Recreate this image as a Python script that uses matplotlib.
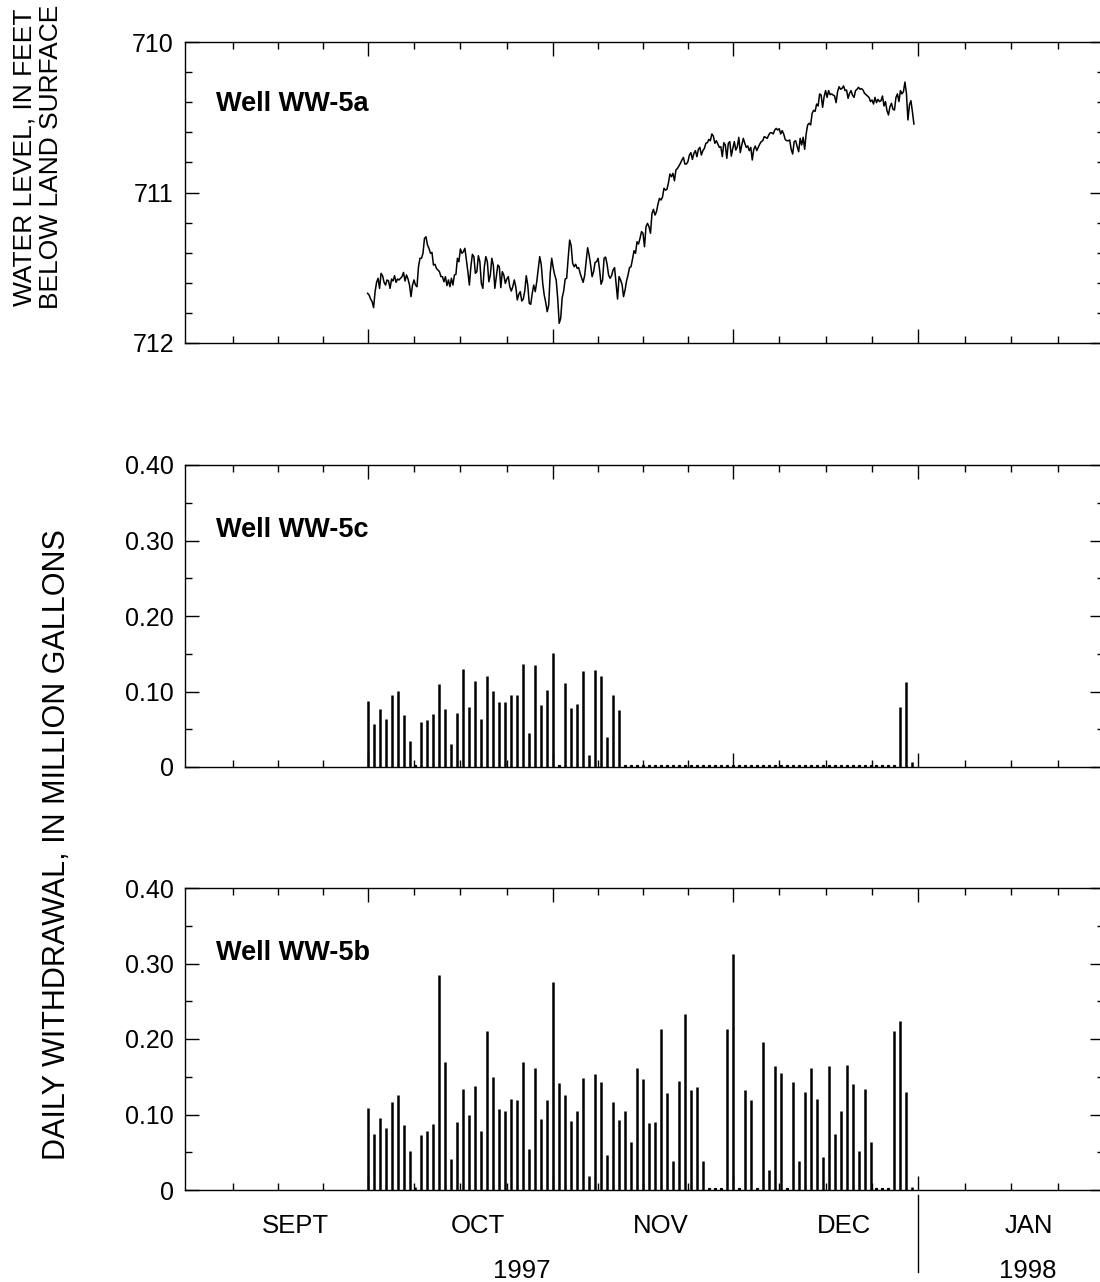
import matplotlib
matplotlib.use('Agg')
import matplotlib.pyplot as plt
import matplotlib.transforms as mtransforms
from matplotlib.ticker import FixedLocator, MultipleLocator, FuncFormatter

plt.rcParams['font.family'] = ['Liberation Sans', 'DejaVu Sans']

# x axis is in days counted from 1997-10-01
c_lstMonthStarts = [-30, 0, 31, 61, 92, 123]   # Sept 1 ... Feb 1
c_lstMonthNames = ['SEPT', 'OCT', 'NOV', 'DEC', 'JAN']
c_lstYearNames = ['1997', '1998']

# Well WW-5a water level (ft below land surface), one reading every 6 hours from Oct 1
sLevelStart = 0.0
sLevelStep = 0.25
lstLevel = [
   711.670, 711.681, 711.708, 711.725, 711.765, 711.659, 711.597, 711.570,
   711.637, 711.537, 711.553, 711.597, 711.615, 711.581, 711.588, 711.637,
   711.575, 711.588, 711.553, 711.597, 711.575, 711.581, 711.570, 711.559,
   711.531, 711.588, 711.548, 711.575, 711.615, 711.692, 711.615, 711.581,
   711.615, 711.626, 711.493, 711.437, 711.437, 711.404, 711.305, 711.294,
   711.349, 711.371, 711.404, 711.398, 711.482, 711.477, 711.504, 711.515,
   711.526, 711.559, 711.559, 711.593, 711.559, 711.619, 711.581, 711.626,
   711.570, 711.615, 711.548, 711.544, 711.437, 711.460, 711.375, 711.404,
   711.393, 711.371, 711.449, 711.526, 711.615, 711.493, 711.411, 711.426,
   711.537, 711.526, 711.420, 711.460, 711.604, 711.637, 711.493, 711.426,
   711.460, 711.593, 711.548, 711.437, 711.482, 711.637, 711.559, 711.482,
   711.493, 711.632, 711.526, 711.548, 711.604, 711.575, 711.559, 711.626,
   711.655, 711.626, 711.581, 711.626, 711.714, 711.677, 711.659, 711.721,
   711.708, 711.655, 711.553, 711.615, 711.736, 711.743, 711.670, 711.615,
   711.659, 711.593, 711.508, 711.426, 711.477, 711.604, 711.681, 711.730,
   711.792, 711.748, 711.537, 711.437, 711.499, 711.548, 711.581, 711.703,
   711.869, 711.836, 711.699, 711.655, 711.575, 711.570, 711.437, 711.316,
   711.353, 711.471, 711.493, 711.477, 711.504, 711.499, 711.537, 711.566,
   711.597, 711.553, 711.460, 711.367, 711.415, 711.482, 711.559, 711.526,
   711.464, 711.460, 711.437, 711.515, 711.610, 711.581, 711.437, 711.429,
   711.477, 711.548, 711.570, 711.553, 711.515, 711.499, 711.604, 711.708,
   711.559, 711.581, 711.610, 711.692, 711.648, 711.588, 711.548, 711.499,
   711.493, 711.442, 711.387, 711.404, 711.327, 711.342, 711.305, 711.260,
   711.271, 711.360, 711.227, 711.205, 711.227, 711.271, 711.139, 711.112,
   711.150, 711.128, 711.077, 711.039, 711.050, 711.032, 710.972, 710.984,
   710.979, 710.935, 710.877, 710.895, 710.873, 710.922, 710.851, 710.840,
   710.824, 710.806, 710.784, 710.767, 710.811, 710.811, 710.795, 710.751,
   710.735, 710.780, 710.740, 710.722, 710.762, 710.713, 710.700, 710.751,
   710.722, 710.707, 710.673, 710.669, 710.647, 710.656, 710.611, 710.625,
   710.673, 710.656, 710.678, 710.700, 710.696, 710.762, 710.669, 710.685,
   710.773, 710.673, 710.662, 710.758, 710.707, 710.662, 710.718, 710.696,
   710.634, 710.735, 710.685, 710.640, 710.673, 710.700, 710.691, 710.722,
   710.700, 710.784, 710.713, 710.691, 710.722, 710.700, 710.678, 710.662,
   710.656, 710.629, 710.634, 710.640, 710.618, 710.603, 710.603, 710.611,
   710.585, 710.574, 710.585, 710.576, 710.611, 710.589, 710.611, 710.647,
   710.656, 710.656, 710.651, 710.713, 710.744, 710.662, 710.656, 710.695,
   710.729, 710.640, 710.684, 710.633, 710.713, 710.611, 710.551, 710.540,
   710.551, 710.474, 710.454, 710.461, 710.412, 710.425, 710.345, 710.352,
   710.434, 710.363, 710.323, 710.368, 710.323, 710.350, 710.345, 710.352,
   710.359, 710.403, 710.330, 710.297, 710.314, 710.308, 710.292, 710.323,
   710.319, 710.374, 710.341, 710.323, 710.354, 710.368, 710.323, 710.314,
   710.301, 710.314, 710.310, 710.319, 710.341, 710.350, 710.359, 710.368,
   710.396, 710.385, 710.412, 710.368, 710.403, 710.381, 710.396, 710.390,
   710.359, 710.425, 710.396, 710.456, 710.485, 710.430, 710.407, 710.447,
   710.452, 710.368, 710.345, 710.396, 710.323, 710.345, 710.330, 710.266,
   710.341, 710.518, 710.419, 710.390, 710.463, 710.545,
]

# Daily withdrawal (million gallons), one value per day from Oct 1 (day 0) to Dec 31 (day 91)
lstDays = list(range(92))
lstWithdrawal5c = [
   0.087, 0.057, 0.077, 0.064, 0.096, 0.101, 0.069, 0.035, 0, 0.059,
   0.062, 0.070, 0.110, 0.077, 0.030, 0.072, 0.130, 0.080, 0.114, 0.063,
   0.121, 0.101, 0.086, 0.086, 0.096, 0.096, 0.137, 0.045, 0.135, 0.082,
   0.102, 0.151, 0, 0.111, 0.078, 0.083, 0.127, 0.016, 0.129, 0.121,
   0.040, 0.096, 0.076, 0, 0, 0, 0, 0, 0, 0,
   0, 0, 0, 0, 0, 0, 0, 0, 0, 0,
   0, 0, 0, 0, 0, 0, 0, 0, 0, 0,
   0, 0, 0, 0, 0, 0, 0, 0, 0, 0,
   0, 0, 0, 0, 0, 0, 0, 0, 0, 0.079,
   0.112, 0.006,
]
lstWithdrawal5b = [
   0.108, 0.074, 0.096, 0.082, 0.116, 0.126, 0.086, 0.051, 0.004, 0.073,
   0.078, 0.087, 0.285, 0.170, 0.041, 0.090, 0.134, 0.100, 0.138, 0.078,
   0.210, 0.150, 0.107, 0.105, 0.121, 0.119, 0.170, 0.054, 0.161, 0.094,
   0.119, 0.276, 0.142, 0.126, 0.092, 0.105, 0.149, 0.018, 0.153, 0.143,
   0.046, 0.116, 0.093, 0.105, 0.064, 0.162, 0.147, 0.089, 0.090, 0.213,
   0.129, 0.038, 0.145, 0.233, 0.133, 0.137, 0.038, 0, 0, 0,
   0.213, 0.313, 0, 0.132, 0.119, 0, 0.196, 0.027, 0.164, 0.155,
   0, 0.143, 0.038, 0.130, 0.162, 0.121, 0.044, 0.164, 0.074, 0.104,
   0.166, 0.140, 0.052, 0.134, 0.064, 0, 0, 0, 0.210, 0.224,
   0.130, 0.004,
]

c_nFontSize = 18
c_nWellFontSize = 19.5
c_strInk = 'black'


def setup_time_axis(ax):
   ax.set_xlim(-30.5, 123)
   lstMinor = list()
   for i in range(len(c_lstMonthStarts) - 1):
      nStart = c_lstMonthStarts[i]
      nLen = c_lstMonthStarts[i + 1] - nStart
      for k in (1, 2, 3):
         lstMinor.append(nStart + k * nLen / 4.0)
   ax.xaxis.set_major_locator(FixedLocator(c_lstMonthStarts[1:5]))
   ax.xaxis.set_minor_locator(FixedLocator(lstMinor))
   ax.set_xticklabels([])
   ax.tick_params(which='both', direction='in', top=True, right=True,
                  labelsize=c_nFontSize, pad=8, color=c_strInk)
   ax.tick_params(which='major', length=10, width=1.0)
   ax.tick_params(which='minor', length=5, width=1.0)
   for spine in ax.spines.values():
      spine.set_linewidth(1.0)


def withdrawal_panel(ax, lstValues, strWell):
   lstBarDays = [d for (d, v) in zip(lstDays, lstValues) if v > 0]
   lstBarVals = [v for v in lstValues if v > 0]
   lstZeroDays = [d for (d, v) in zip(lstDays, lstValues) if v == 0]
   ax.vlines(lstBarDays, 0, lstBarVals, color=c_strInk, linewidth=1.8)
   ax.plot(lstZeroDays, [0.0015] * len(lstZeroDays), linestyle='none',
           marker='s', markersize=1.3, color=c_strInk)
   setup_time_axis(ax)
   ax.set_ylim(0, 0.40)
   ax.yaxis.set_major_locator(MultipleLocator(0.10))
   ax.yaxis.set_minor_locator(MultipleLocator(0.05))
   ax.yaxis.set_major_formatter(FuncFormatter(lambda v, p: '0' if abs(v) < 1e-9 else '%.2f' % v))
   ax.text(0.034, 0.785, strWell, transform=ax.transAxes, fontsize=c_nWellFontSize,
           fontweight='bold', ha='left', va='center')


fig = plt.figure(figsize=(11.0, 12.82), dpi=100)
W, H = 1100.0, 1282.0
sLeft = 185 / W
sWidth = (1104 - 185) / W

# Water level panel
axLevel = fig.add_axes([sLeft, 1 - 343 / H, sWidth, 301 / H])
lstLevelDays = [sLevelStart + i * sLevelStep for i in range(len(lstLevel))]
axLevel.plot(lstLevelDays, lstLevel, color=c_strInk, linewidth=1.1)
setup_time_axis(axLevel)
axLevel.set_ylim(712, 710)
axLevel.yaxis.set_major_locator(MultipleLocator(1))
axLevel.yaxis.set_minor_locator(MultipleLocator(0.2))
axLevel.yaxis.set_major_formatter(FuncFormatter(lambda v, p: '%d' % round(v)))
axLevel.text(0.034, 0.795, 'Well WW-5a', transform=axLevel.transAxes, fontsize=c_nWellFontSize,
             fontweight='bold', ha='left', va='center')

# Withdrawal panels
ax5c = fig.add_axes([sLeft, 1 - 767 / H, sWidth, 302 / H])
withdrawal_panel(ax5c, lstWithdrawal5c, 'Well WW-5c')
ax5b = fig.add_axes([sLeft, 1 - 1190 / H, sWidth, 302 / H])
withdrawal_panel(ax5b, lstWithdrawal5b, 'Well WW-5b')

# Month and year labels under the bottom panel
trans = mtransforms.blended_transform_factory(ax5b.transData, ax5b.transAxes)
for i, strMonth in enumerate(c_lstMonthNames):
   sMid = (c_lstMonthStarts[i] + c_lstMonthStarts[i + 1]) / 2.0 + 3
   ax5b.text(sMid, -0.119, strMonth, transform=trans, fontsize=18.5,
             ha='center', va='center')
ax5b.text(25.8, -0.268, c_lstYearNames[0], transform=trans, fontsize=18.5,
          ha='center', va='center')
ax5b.text(110.2, -0.268, c_lstYearNames[1], transform=trans, fontsize=18.5,
          ha='center', va='center')
ax5b.plot([92, 92], [-0.017, -0.272], transform=trans, color=c_strInk,
          linewidth=1.0, clip_on=False)

# Axis titles
fig.text(38 / W, 1 - 157 / H, 'WATER LEVEL, IN FEET\nBELOW LAND SURFACE', rotation=90,
         ha='center', va='center', fontsize=19, linespacing=1.15, multialignment='center')
fig.text(57 / W, 1 - 845 / H, 'DAILY WITHDRAWAL, IN MILLION GALLONS', rotation=90,
         ha='center', va='center', fontsize=22)

fig.savefig('out.png', dpi=100)
